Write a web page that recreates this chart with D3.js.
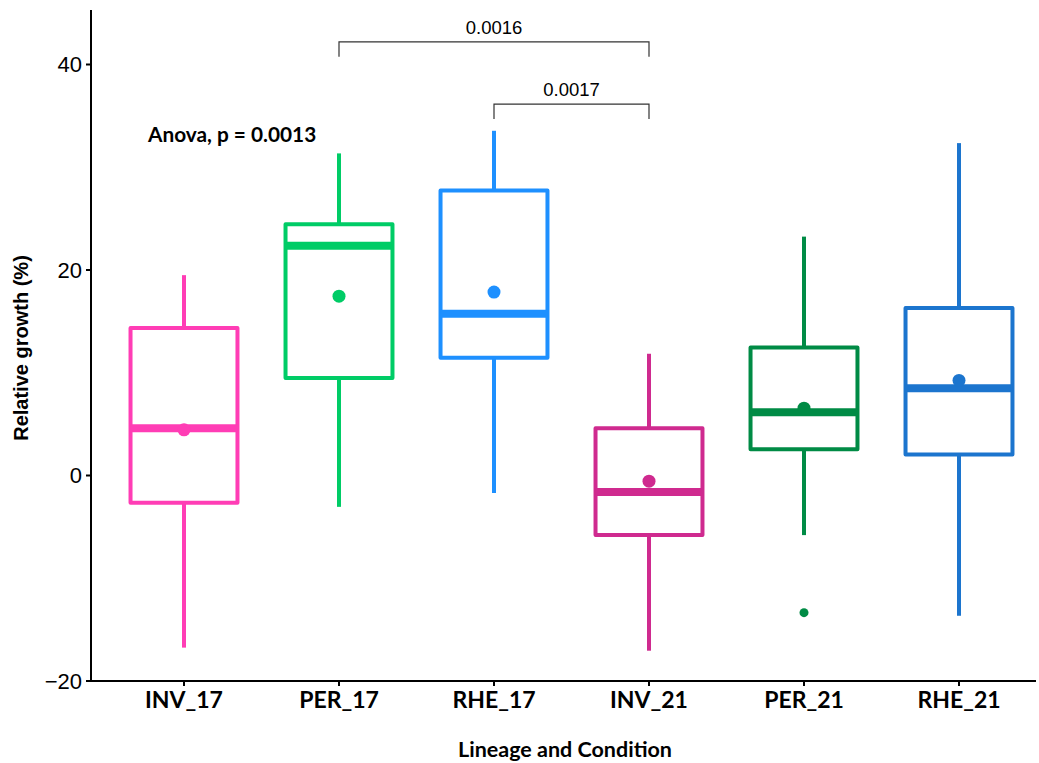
<!DOCTYPE html>
<html><head><meta charset="utf-8">
<script src="https://cdn.jsdelivr.net/npm/d3@7"></script>
<style>body{margin:0;background:#fff}</style>
</head><body>
<svg id="c" width="1039" height="763"></svg>
<script>
const categories = ["INV_17","PER_17","RHE_17","INV_21","PER_21","RHE_21"];
const colors = ["#FF3DB5","#00CC66","#1E90FF","#CF2A8F","#008B45","#1C75CE"];
const whiskerLow  = [-16.8, -3.1, -1.75, -17.1, -5.85, -13.7];
const q1          = [-2.7, 9.45, 11.4, -5.85, 2.5, 2.0];
const median      = [4.55, 22.3, 15.7, -1.65, 6.1, 8.45];
const q3          = [14.3, 24.4, 27.7, 4.55, 12.4, 16.25];
const whiskerHigh = [19.45, 31.3, 33.5, 11.8, 23.2, 32.3];
const means       = [4.4, 17.4, 17.8, -0.6, 6.5, 9.2];
const outliers    = [[],[],[],[],[-13.4],[]];
const yTicks = [-20, 0, 20, 40];
const comparisons = [
  {from:"PER_17", to:"INV_21", y:42.15, tip:40.7, label:"0.0016"},
  {from:"RHE_17", to:"INV_21", y:36.1, tip:34.65, label:"0.0017"}
];
const anovaText = "Anova, p = 0.0013";

const svg = d3.select("#c");
const x = d3.scaleBand().domain(categories).range([106.5, 1036.5]).paddingInner(0).paddingOuter(0);
const y = d3.scaleLinear().domain([-20, 40]).range([680.5, 64]);
const bw = x.bandwidth()*0.69;

// axes
const yAx = svg.append("g").attr("transform","translate(91,0)")
  .call(d3.axisLeft(y).tickValues(yTicks).tickSize(5).tickFormat(d=>d<0?"\u2212"+Math.abs(d):d));
yAx.select(".domain").attr("d","M0,10V681").attr("stroke","#000").attr("stroke-width",2);
yAx.selectAll(".tick line").attr("stroke","#000").attr("stroke-width",2);
yAx.selectAll(".tick text").attr("font-family","Liberation Sans, Arial, sans-serif").attr("font-size",22).attr("fill","#000").attr("x",-9).attr("dy","0.36em");

const xAx = svg.append("g").attr("transform","translate(0,681)")
  .call(d3.axisBottom(x).tickSize(5));
xAx.select(".domain").attr("d","M91,0H1036").attr("stroke","#000").attr("stroke-width",2);
xAx.selectAll(".tick line").attr("stroke","#000").attr("stroke-width",2);
xAx.selectAll(".tick text").attr("font-family","Lato, sans-serif").attr("font-weight","bold").attr("font-size",23).attr("fill","#000").attr("y",11);

// titles
svg.append("text").attr("x",565).attr("y",757).attr("text-anchor","middle")
  .attr("font-family","Lato, sans-serif").attr("font-weight","bold").attr("font-size",21.5).text("Lineage and Condition");
svg.append("text").attr("transform","translate(28,348) rotate(-90)").attr("text-anchor","middle")
  .attr("font-family","Liberation Sans, Arial, sans-serif").attr("font-weight","bold").attr("font-size",20).text("Relative growth (%)");

// boxes
categories.forEach((c,i)=>{
  const cx = x(c)+x.bandwidth()/2, col = colors[i];
  const g = svg.append("g");
  g.append("line").attr("x1",cx).attr("x2",cx).attr("y1",y(q3[i])).attr("y2",y(whiskerHigh[i])).attr("stroke",col).attr("stroke-width",4);
  g.append("line").attr("x1",cx).attr("x2",cx).attr("y1",y(q1[i])).attr("y2",y(whiskerLow[i])).attr("stroke",col).attr("stroke-width",4);
  g.append("rect").attr("x",cx-bw/2).attr("y",y(q3[i])).attr("width",bw).attr("height",y(q1[i])-y(q3[i]))
    .attr("fill","#fff").attr("stroke",col).attr("stroke-width",4).attr("stroke-linejoin","round");
  g.append("line").attr("x1",cx-bw/2).attr("x2",cx+bw/2).attr("y1",y(median[i])).attr("y2",y(median[i])).attr("stroke",col).attr("stroke-width",8);
  outliers[i].forEach(o=>g.append("circle").attr("cx",cx).attr("cy",y(o)).attr("r",4.5).attr("fill",col));
  g.append("circle").attr("cx",cx).attr("cy",y(means[i])).attr("r",6.5).attr("fill",col);
});

// comparisons
comparisons.forEach(cm=>{
  const x1 = x(cm.from)+x.bandwidth()/2, x2 = x(cm.to)+x.bandwidth()/2;
  svg.append("path").attr("d",`M${x1},${y(cm.tip)}V${y(cm.y)}H${x2}V${y(cm.tip)}`)
    .attr("fill","none").attr("stroke","#333").attr("stroke-width",1.2);
  svg.append("text").attr("x",(x1+x2)/2).attr("y",y(cm.y)-8).attr("text-anchor","middle")
    .attr("font-family","Liberation Sans, Arial, sans-serif").attr("font-size",18.5).attr("fill","#000").text(cm.label);
});

svg.append("text").attr("x",148).attr("y",142).attr("font-family","Lato, sans-serif").attr("font-weight","bold")
  .attr("font-size",20.8).attr("fill","#000").text(anovaText);
</script>
</body></html>
